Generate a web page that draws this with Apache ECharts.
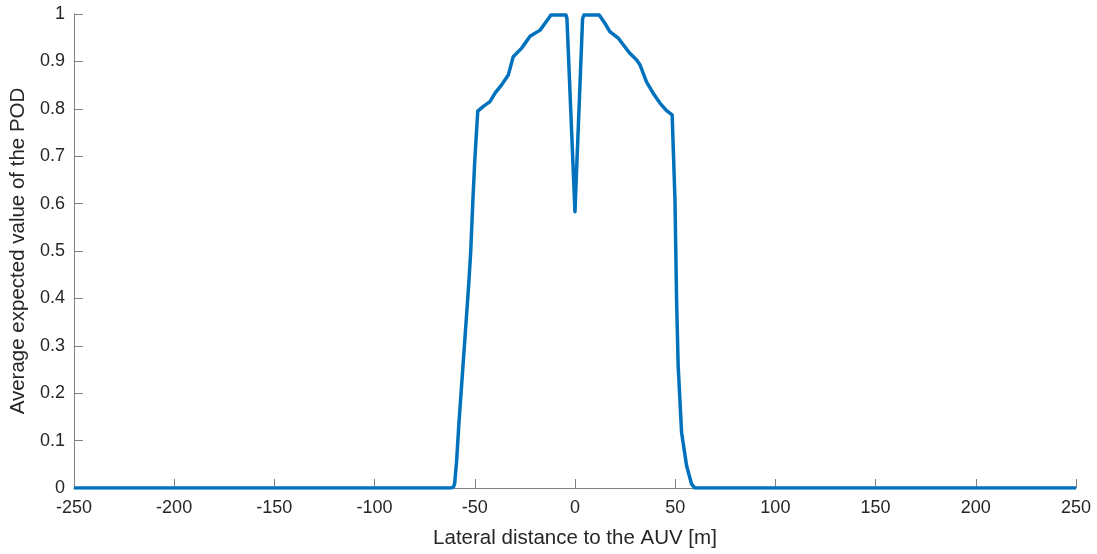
<!DOCTYPE html>
<html>
<head>
<meta charset="utf-8">
<script src="https://cdn.jsdelivr.net/npm/echarts@6/dist/echarts.min.js"></script>
<style>
  html, body { margin: 0; padding: 0; background: #fff; }
  #main { width: 1097px; height: 554px; }
</style>
</head>
<body>
<div id="main"></div>
<script>
  // lateral distance [m] and average expected POD
  var distance = [-250, -62, -60.6, -60, -59, -58, -57, -56, -55, -54, -53, -52, -51, -50, -49, -48.5,
    -45.7, -42.4, -39.9, -36.5, -33.2, -30.8, -26.6, -22.4, -17.4, -13.3, -12, -4.5, -4, 0, 3.8, 4.5, 12.1,
    15, 17.4, 21.6, 24.1, 27.4, 30.8, 32.4, 35.7, 39, 42.4, 45.7, 48.5, 49.9, 50.7, 51.5, 53.2, 55.7, 58.2, 59.8, 250];
  var pod = [0, 0, 0.002, 0.01, 0.06, 0.13, 0.19, 0.25, 0.31, 0.37, 0.43, 0.5, 0.6, 0.69, 0.76, 0.795,
    0.805, 0.815, 0.833, 0.851, 0.872, 0.91, 0.928, 0.953, 0.966, 0.99, 0.998, 0.998, 0.99, 0.583, 0.99, 0.998, 0.998,
    0.98, 0.963, 0.949, 0.935, 0.917, 0.903, 0.893, 0.857, 0.833, 0.812, 0.796, 0.787, 0.608, 0.398, 0.257, 0.117, 0.047, 0.008, 0, 0];

  var xTitle = 'Lateral distance to the AUV [m]';
  var yTitle = 'Average expected value of the POD';

  var points = [];
  for (var i = 0; i < distance.length; i++) {
    points.push([distance[i], pod[i]]);
  }

  var axisGray = '#808080';
  var textDark = '#262626';
  var font = 'Liberation Sans, Arial, sans-serif';

  var myChart = echarts.init(document.getElementById('main'));
  var option = {
    animation: false,
    grid: { left: 73, right: 21, top: 14, bottom: 65 },
    xAxis: {
      type: 'value',
      min: -250, max: 250, interval: 50,
      name: xTitle,
      nameLocation: 'middle',
      nameGap: 40,
      nameTextStyle: { color: textDark, fontSize: 20.5, fontFamily: font },
      axisLine: { onZero: false, lineStyle: { color: axisGray, width: 1 } },
      axisTick: { inside: true, length: 9, lineStyle: { color: axisGray } },
      axisLabel: { color: textDark, fontSize: 18, fontFamily: font, margin: 11 },
      splitLine: { show: false }
    },
    yAxis: {
      type: 'value',
      min: 0, max: 1, interval: 0.1,
      name: yTitle,
      nameLocation: 'middle',
      nameGap: 42,
      nameTextStyle: { color: textDark, fontSize: 20.5, fontFamily: font },
      axisLine: { show: true, onZero: false, lineStyle: { color: axisGray, width: 1 } },
      axisTick: { show: true, inside: true, length: 9, lineStyle: { color: axisGray } },
      axisLabel: {
        color: textDark, fontSize: 18, fontFamily: font, margin: 9,
        formatter: function (v) { return String(Math.round(v * 10) / 10); }
      },
      splitLine: { show: false }
    },
    series: [{
      type: 'line',
      data: points,
      showSymbol: false,
      symbol: 'none',
      lineStyle: { color: '#0072BD', width: 3.5, join: 'round' }
    }]
  };
  myChart.setOption(option);
</script>
</body>
</html>
